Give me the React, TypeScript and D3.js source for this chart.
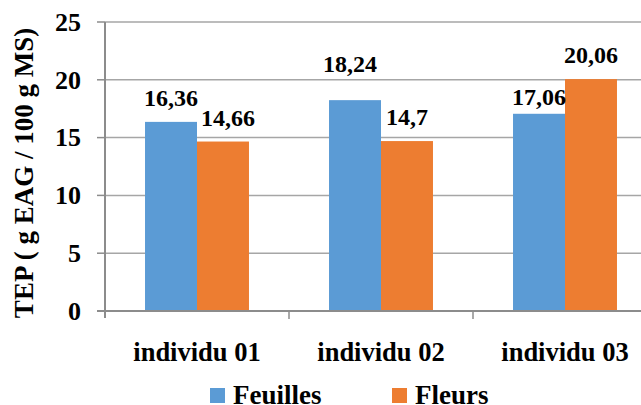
import React from "react";
import * as d3 from "d3";

const categories = ["individu 01", "individu 02", "individu 03"];
const seriesNames = ["Feuilles", "Fleurs"];
const feuilles = [16.36, 18.24, 17.06];
const fleurs = [14.66, 14.7, 20.06];
const valueLabels = [["16,36", "18,24", "17,06"], ["14,66", "14,7", "20,06"]];
const yTicks = [0, 5, 10, 15, 20, 25];
const colors = ["#5B9BD5", "#ED7D31"];

// manual label nudges (as in the original chart), [series][category]
const labelDx = [[0, -5, 0], [5, 0, 0]];
const labelDy = [[0, -12, 7], [0, 0, 0]];

const W = 641;
const H = 405;
const FONT = '"Liberation Serif", Tinos, "Nimbus Roman", "Times New Roman", "DejaVu Serif", serif';

export default function App() {
  const left = 105;
  const top = 22;
  const bottom = 311;
  const y = d3.scaleLinear().domain([0, 25]).range([bottom, top]);
  const x = d3
    .scaleBand<string>()
    .domain(categories)
    .range([left, 657])
    .paddingInner(0.435)
    .paddingOuter(0.2175);
  const x1 = d3.scaleBand<number>().domain([0, 1]).range([0, x.bandwidth()]);
  const series = [feuilles, fleurs];
  const step = x.step();
  const tstyle = { fontFamily: FONT, fontWeight: 700 } as React.CSSProperties;

  return (
    <svg
      width={W}
      height={H}
      style={{ position: "absolute", left: 0, top: 0, background: "#fff", fontFamily: FONT }}
    >
      {yTicks.filter((t) => t > 0).map((t) => (
        <line key={"g" + t} x1={left} x2={W} y1={y(t)} y2={y(t)} stroke="#a6a6a6" strokeWidth={1.5} />
      ))}
      {yTicks.map((t) => (
        <line key={"yt" + t} x1={left - 8} x2={left} y1={y(t)} y2={y(t)} stroke="#8c8c8c" strokeWidth={1.5} />
      ))}
      {series.map((vals, si) =>
        vals.map((v, ci) => (
          <rect
            key={`b${si}-${ci}`}
            x={(x(categories[ci]) as number) + (x1(si) as number)}
            y={y(v)}
            width={x1.bandwidth()}
            height={bottom - y(v)}
            fill={colors[si]}
          />
        ))
      )}
      <line x1={left} x2={left} y1={top} y2={bottom + 7} stroke="#8c8c8c" strokeWidth={2} />
      <line x1={left - 8} x2={W} y1={bottom} y2={bottom} stroke="#8c8c8c" strokeWidth={2} />
      {categories.map((c, i) => {
        const xb = (x(c) as number) - step * 0.2175 + step;
        return <line key={"xt" + i} x1={xb} x2={xb} y1={bottom} y2={bottom + 8} stroke="#8c8c8c" strokeWidth={1.5} />;
      })}
      {yTicks.map((t) => (
        <text key={"yl" + t} x={81} y={y(t)} dy="0.34em" textAnchor="end" fontSize={26} style={tstyle}>
          {t}
        </text>
      ))}
      {series.map((vals, si) =>
        vals.map((v, ci) => (
          <text
            key={`l${si}-${ci}`}
            x={(x(categories[ci]) as number) + (x1(si) as number) + x1.bandwidth() / 2 + labelDx[si][ci]}
            y={y(v) - 16 + labelDy[si][ci]}
            textAnchor="middle"
            fontSize={24}
            style={tstyle}
          >
            {valueLabels[si][ci]}
          </text>
        ))
      )}
      {categories.map((c) => (
        <text key={c} x={(x(c) as number) + x.bandwidth() / 2} y={361} textAnchor="middle" fontSize={26.5} style={tstyle}>
          {c}
        </text>
      ))}
      <text
        transform={`translate(33, ${173}) rotate(-90)`}
        textAnchor="middle"
        fontSize={27}
        style={tstyle}
      >
        TEP ( g EAG / 100 g MS)
      </text>
      {seriesNames.map((n, i) => {
        const lx = i === 0 ? 210 : 392;
        return (
          <g key={n}>
            <rect x={lx} y={388} width={15} height={15} fill={colors[i]} />
            <text x={lx + 23} y={404} fontSize={27} style={tstyle}>
              {n}
            </text>
          </g>
        );
      })}
    </svg>
  );
}
